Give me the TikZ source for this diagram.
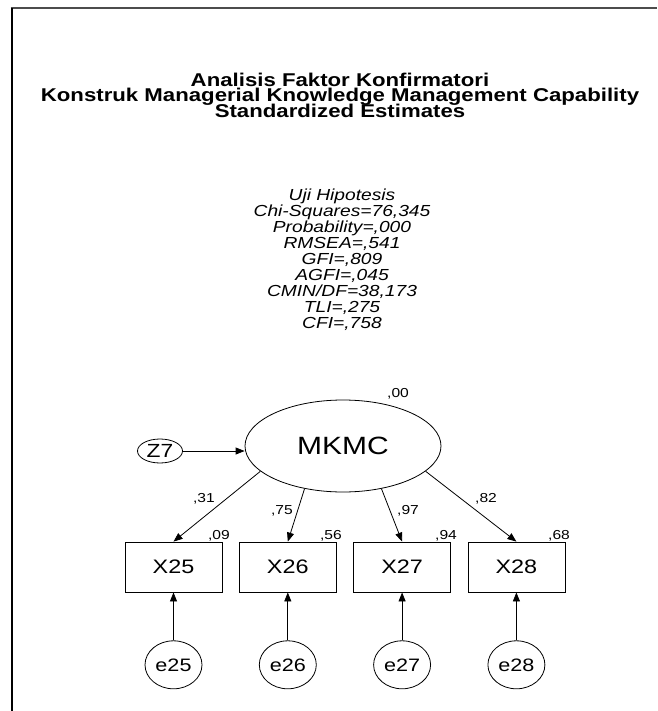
\documentclass[tikz,border=0pt]{standalone}
\usepackage{fontspec}
\setmainfont{Liberation Sans}[FakeStretch=1.2]
\usetikzlibrary{arrows.meta,positioning,shapes.geometric}
\tikzset{
  latent/.style={draw, ellipse, inner sep=0pt, line width=0.8pt},
  obsbox/.style={draw, rectangle, minimum width=97pt, minimum height=50pt,
                 inner sep=0pt, line width=0.8pt, font=\fontsize{19.5}{22}\selectfont},
  errnode/.style={latent, minimum width=57pt, minimum height=48pt,
                  font=\fontsize{18}{20}\selectfont},
  load/.style={-{Triangle[length=9pt,width=7pt]}, line width=0.8pt},
  est/.style={font=\fontsize{13}{14}\selectfont, inner sep=0pt},
}

\begin{document}
\begin{tikzpicture}[x=1pt, y=1pt, node distance=48pt and 16.5pt]
  \useasboundingbox (0,0) rectangle (657,-711);
  % frame
  \draw[line width=2pt, black!70] (10.5,-8.5) -- (657,-8.5);
  \draw[line width=2pt] (11.8,-8.5) -- (11.8,-711);

  % headings
  \node[anchor=base, align=center, inner sep=0pt,
        font={\fontsize{18.5}{15.7}\selectfont\bfseries\lineskiplimit=-50pt}] (title) at (340,-117.5)
    {Analisis Faktor Konfirmatori\\Konstruk Managerial Knowledge Management Capability\\Standardized Estimates};
  \node[anchor=base, align=center, inner sep=0pt,
        font={\fontsize{16}{15.9}\selectfont\itshape\lineskiplimit=-50pt}] (fit) at (342,-328)
    {Uji Hipotesis\\Chi-Squares=76,345\\Probability=,000\\RMSEA=,541\\GFI=,809\\AGFI=,045\\CMIN/DF=38,173\\TLI=,275\\CFI=,758};

  % latent
  \node[latent, minimum width=196pt, minimum height=92pt,
        font=\fontsize{25}{28}\selectfont] (mkmc) at (343,-446) {MKMC};
  \node[latent, minimum width=45pt, minimum height=24pt,
        font=\fontsize{19}{20}\selectfont] (z7) at (160,-451) {Z7};
  \node[est] (rmkmc) at (398,-394) {,00};

  % indicators
  \node[obsbox] (x25) at (173.5,-567) {X25};
  \node[obsbox, right=of x25] (x26) {X26};
  \node[obsbox, right=of x26] (x27) {X27};
  \node[obsbox, right=of x27] (x28) {X28};

  \node[errnode, below=of x25] (e25) {e25};
  \node[errnode, below=of x26] (e26) {e26};
  \node[errnode, below=of x27] (e27) {e27};
  \node[errnode, below=of x28] (e28) {e28};

  % estimates
  \node[est] (l25) at (204,-499) {,31};
  \node[est] (l26) at (282,-511) {,75};
  \node[est] (l27) at (408,-511) {,97};
  \node[est] (l28) at (486,-499) {,82};
  \node[est] (r25) at (219,-536) {,09};
  \node[est] (r26) at (331,-536) {,56};
  \node[est] (r27) at (446,-536) {,94};
  \node[est] (r28) at (559,-536) {,68};

  \draw[load] (z7.east) -- (z7.east -| mkmc.west);
  \draw[load] (mkmc.197) -- (x25.north);
  \draw[load] (mkmc.228) -- (x26.north);
  \draw[load] (mkmc.312) -- (x27.north);
  \draw[load] (mkmc.343) -- (x28.north);
  \draw[load] (e25) -- (x25);
  \draw[load] (e26) -- (x26);
  \draw[load] (e27) -- (x27);
  \draw[load] (e28) -- (x28);
\end{tikzpicture}
\end{document}
